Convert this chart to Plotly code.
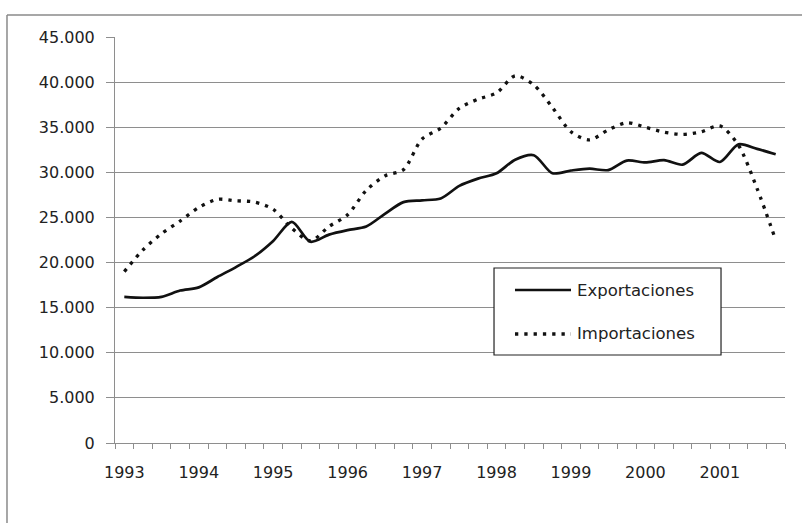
import plotly.graph_objects as go

# Quarterly series, 1993 Q1 - 2001 Q4
years = [str(y) for y in range(1993, 2002)]
quarters = [f"{y} T{q}" for y in range(1993, 2002) for q in range(1, 5)]
series_names = ["Exportaciones", "Importaciones"]

exportaciones = [
    16200, 16100, 16200, 16900, 17250, 18400, 19500, 20700,
    22400, 24500, 22300, 23100, 23600, 24000, 25400, 26700,
    26900, 27100, 28500, 29300, 29900, 31400, 31900, 29900,
    30200, 30400, 30250, 31300, 31100, 31350, 30850, 32150,
    31150, 33100, 32600, 32000,
]
importaciones = [
    19000, 21400, 23200, 24600, 26100, 27000, 26850, 26700,
    25900, 23800, 22400, 24000, 25300, 28000, 29600, 30300,
    33700, 34900, 37100, 38100, 38800, 40700, 39700, 37200,
    34500, 33600, 34700, 35500, 35000, 34450, 34200, 34500,
    35150, 33000, 28200, 22500,
]

x = list(range(len(quarters)))
label_pos = x[::4]

GRID = "#8e8e8e"
TEXT = "#222222"
FONT = "DejaVu Sans"
INK = "#111111"
SOLID = dict(color=INK, width=2.7)
DOTTED = dict(color=INK, width=3.3, dash="3.3px,6px")

fig = go.Figure()
fig.add_trace(go.Scatter(
    x=x, y=exportaciones, name=series_names[0], text=quarters,
    mode="lines", line=dict(**SOLID, shape="spline", smoothing=0.8),
    hovertemplate="%{text}: %{y:,}<extra></extra>",
))
fig.add_trace(go.Scatter(
    x=x, y=importaciones, name=series_names[1], text=quarters,
    mode="lines", line=dict(**DOTTED, shape="spline", smoothing=0.8),
    hovertemplate="%{text}: %{y:,}<extra></extra>",
))

fig.update_layout(
    width=802, height=523,
    margin=dict(l=115, r=17, t=37, b=80),
    paper_bgcolor="white", plot_bgcolor="white",
    separators=",.",
    font=dict(family=FONT, size=16, color=TEXT),
    showlegend=False,
    xaxis=dict(
        range=[-0.5, len(x) - 0.5],
        tickmode="array", tickvals=label_pos, ticktext=years,
        ticks="outside", ticklen=5, tickcolor="rgba(0,0,0,0)",
        ticklabelstandoff=10,
        showline=True, linecolor=GRID, linewidth=1,
        showgrid=False, zeroline=False,
        minor=dict(tickmode="linear", tick0=-0.5, dtick=1, ticks="outside",
                   ticklen=5, tickcolor=GRID, showgrid=False),
        tickfont=dict(family=FONT, size=16, color=TEXT),
    ),
    yaxis=dict(
        range=[0, 45000], tickmode="linear", tick0=0, dtick=5000,
        tickformat=",d",
        showgrid=True, gridcolor=GRID, gridwidth=1,
        ticks="outside", ticklen=8, tickcolor=GRID,
        ticklabelstandoff=8,
        showline=True, linecolor=GRID, linewidth=1, zeroline=False,
        tickfont=dict(family=FONT, size=16, color=TEXT),
    ),
)

# Legend box with line samples and labels
fig.add_shape(type="rect", xref="paper", yref="paper",
              x0=0.5657, x1=0.9045, y0=0.2167, y1=0.4310,
              line=dict(color="#222222", width=1.2), fillcolor="white", layer="above")
for yk, style, name in [(0.3768, SOLID, series_names[0]), (0.2685, DOTTED, series_names[1])]:
    fig.add_shape(type="line", xref="paper", yref="paper",
                  x0=0.5970, x1=0.6806, y0=yk, y1=yk, line=style, layer="above")
    fig.add_annotation(xref="paper", yref="paper", x=0.6866, y=yk,
                       text=name, showarrow=False, xanchor="left", yanchor="middle",
                       font=dict(family=FONT, size=16.5, color=TEXT))

# Outer chart frame (left and top edges)
fig.add_shape(type="line", xref="paper", yref="paper",
              x0=-0.1612, x1=-0.1612, y0=1.0542, y1=-0.25,
              line=dict(color="#8a8a8a", width=1.5))
fig.add_shape(type="line", xref="paper", yref="paper",
              x0=-0.1612, x1=1.05, y0=1.0542, y1=1.0542,
              line=dict(color="#8a8a8a", width=1.5))

fig.write_html("out.html")
